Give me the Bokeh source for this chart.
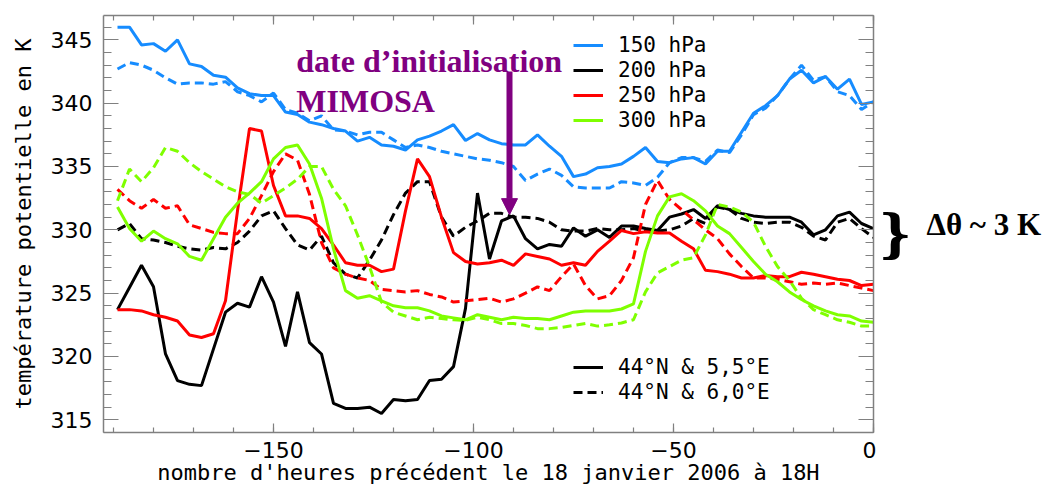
from bokeh.plotting import figure
from bokeh.layouts import row
from bokeh.models import (Range1d, LinearAxis, SingleIntervalTicker, CustomJSTickFormatter,
                          Legend, LegendItem, Label, Arrow, NormalHead)
from bokeh.embed import file_html
from bokeh.resources import INLINE

# ---------------- data ----------------
hours = [-189, -186, -183, -180, -177, -174, -171, -168, -165, -162,
         -159, -156, -153, -150, -147, -144, -141, -138, -135, -132,
         -129, -126, -123, -120, -117, -114, -111, -108, -105, -102,
         -99, -96, -93, -90, -87, -84, -81, -78, -75, -72,
         -69, -66, -63, -60, -57, -54, -51, -48, -45, -42,
         -39, -36, -33, -30, -27, -24, -21, -18, -15, -12,
         -9, -6, -3, 0]

# 44N & 5.5E (solid, "_a") / 44N & 6.0E (dashed, "_b")
theta150_a = [346.0, 346.0, 344.6, 344.7, 344.1, 345.0, 343.1, 342.9, 342.2, 342.05,
              341.2, 340.75, 340.6, 340.6, 339.3, 339.1, 338.5, 338.3, 338.0, 337.8,
              337.0, 337.3, 336.7, 336.6, 336.3, 337.1, 337.4, 337.8, 338.3, 337.05,
              337.6, 337.1, 336.8, 336.7, 336.7, 337.5, 336.6, 335.8, 334.2, 334.4,
              334.9, 335.0, 335.2, 335.8, 336.5, 335.4, 335.3, 335.6, 335.7, 335.2,
              336.2, 336.2, 337.7, 339.2, 339.8, 340.6, 341.9, 342.6, 341.6, 342.1,
              341.1, 341.9, 339.9, 340.1]
theta150_b = [342.7, 343.2, 343.0, 342.6, 342.0, 341.5, 341.6, 341.6, 341.5, 341.7,
              340.9, 340.6, 340.1, 340.8, 339.5, 339.2, 338.6, 339.0, 337.9, 337.8,
              337.5, 337.7, 337.7, 337.1, 336.5, 336.7, 336.5, 336.2, 336.0, 335.8,
              335.6, 335.5, 335.3, 335.0, 333.9, 334.4, 334.8, 334.3, 333.4, 333.3,
              333.3, 333.3, 333.8, 333.7, 333.5, 334.15, 335.3, 335.7, 335.7, 335.4,
              336.3, 336.1, 337.5, 339.1, 339.6, 340.6, 341.9, 343.0, 341.8, 342.1,
              340.9, 340.6, 339.5, 340.1]
theta200_a = [323.7, 325.45, 327.2, 325.5, 320.2, 318.1, 317.8, 317.7, 320.6, 323.5,
              324.2, 323.9, 326.3, 324.3, 320.8, 325.1, 321.1, 320.2, 316.3, 315.9,
              315.9, 316.0, 315.5, 316.6, 316.5, 316.6, 318.1, 318.2, 319.2, 323.8,
              332.9, 327.7, 330.7, 331.1, 329.3, 328.5, 328.85, 328.7, 330.15, 329.5,
              330.0, 329.4, 330.3, 330.3, 330.1, 329.95, 331.0, 331.25, 331.6, 330.9,
              331.9, 331.6, 331.3, 331.1, 331.0, 331.0, 331.0, 330.6, 329.6, 330.0,
              331.1, 331.4, 330.5, 330.1]
theta200_b = [330.0, 330.5, 329.3, 329.2, 329.0, 328.7, 328.5, 328.4, 328.6, 328.5,
              329.0, 329.9, 331.1, 331.5, 330.1, 328.8, 328.4, 329.5, 327.4, 326.5,
              326.2, 327.6, 329.2, 331.2, 332.9, 333.8, 333.8, 331.0, 329.5, 330.2,
              330.7, 331.3, 331.3, 331.0, 331.0, 330.9, 330.6, 330.0, 329.9, 329.9,
              330.1, 330.0, 330.0, 330.1, 329.9, 329.9, 330.0, 330.3, 330.9, 330.5,
              331.8, 331.6, 330.9, 330.6, 330.5, 330.6, 330.6, 330.2, 329.5, 329.2,
              330.6, 330.9, 330.1, 329.4]
theta250_a = [323.7, 323.7, 323.6, 323.3, 323.1, 322.8, 321.7, 321.5, 321.8, 324.4,
              331.5, 338.0, 337.8, 333.5, 331.1, 331.1, 330.9, 330.1, 328.8, 327.4,
              327.2, 327.2, 326.7, 326.9, 331.5, 335.6, 334.2, 331.0, 328.2, 327.5,
              327.3, 327.4, 327.6, 327.2, 328.1, 327.9, 327.7, 327.2, 327.4, 327.2,
              328.3, 329.1, 329.95, 329.7, 329.85, 329.75, 329.75, 329.1, 328.5, 326.8,
              326.7, 326.5, 326.2, 326.2, 326.4, 326.3, 326.3, 326.65, 326.5, 326.3,
              326.1, 326.0, 325.6, 325.7]
theta250_b = [333.2, 332.3, 331.7, 332.4, 331.7, 331.9, 330.4, 330.1, 329.8, 329.7,
              329.7, 330.9, 332.7, 334.6, 336.0, 335.5, 332.8, 329.0, 327.0, 326.5,
              326.2, 326.0, 325.3, 325.2, 325.1, 325.2, 324.9, 324.7, 324.3, 324.4,
              324.5, 324.6, 324.3, 324.55, 325.0, 325.5, 325.2, 326.3, 327.3, 325.6,
              324.55, 324.8, 326.0, 327.8, 332.0, 333.9, 332.4, 331.6, 330.8, 330.0,
              329.3, 328.1, 327.1, 326.2, 326.2, 326.1, 325.9, 325.7, 325.8, 325.7,
              325.8, 325.6, 325.4, 325.2]
theta300_a = [331.8, 330.1, 329.1, 329.9, 329.3, 328.9, 327.9, 327.6, 329.3, 331.0,
              332.1, 332.9, 333.8, 335.6, 336.5, 336.7, 335.2, 332.5, 328.5, 325.2,
              324.6, 324.8, 324.4, 324.0, 323.85, 323.85, 323.6, 323.2, 323.05, 322.9,
              323.3, 323.1, 322.9, 323.1, 323.0, 323.0, 322.9, 323.2, 323.5, 323.6,
              323.6, 323.6, 323.75, 324.15, 328.3, 331.1, 332.6, 332.85, 332.3, 331.5,
              330.3, 329.7, 328.6, 327.5, 326.5, 325.9, 325.1, 324.5, 324.0, 323.6,
              323.3, 323.2, 322.8, 322.7]
theta300_b = [332.3, 334.8, 333.8, 334.9, 336.5, 336.2, 335.3, 334.6, 334.0, 333.4,
              333.0, 332.8, 332.1, 332.7, 333.3, 334.0, 335.0, 335.0, 333.2, 331.9,
              329.6, 327.1, 324.3, 323.5, 323.2, 322.9, 323.1, 323.0, 322.9, 322.85,
              323.1, 322.9, 322.6, 322.6, 322.45, 322.2, 322.2, 322.3, 322.45, 322.6,
              322.4, 322.5, 322.65, 322.9, 325.1, 326.6, 327.1, 327.6, 327.8, 329.6,
              332.0, 331.8, 331.4, 330.6, 328.7, 327.1, 326.0, 324.6, 323.7, 323.3,
              322.9, 322.7, 322.4, 322.4]

levels = ["150 hPa", "200 hPa", "250 hPa", "300 hPa"]
colors = ["#168cff", "#000000", "#ff0000", "#7fff00"]
sites = ["44°N & 5,5°E", "44°N & 6,0°E"]
series_a = [theta150_a, theta200_a, theta250_a, theta300_a]
series_b = [theta150_b, theta200_b, theta250_b, theta300_b]

x_ticks_major = 50
y_ticks_major = 5

init_hour = -91          # MIMOSA initialisation date
init_arrow_top = 342.5
init_arrow_tip = 331.2

# ---------------- figure ----------------
FONT = "DejaVu Sans"
MONO = "DejaVu Sans Mono"
GRAY = "#808080"
PURPLE = "#800080"

p = figure(width=876, height=490,
           x_range=Range1d(-192.5, 0), y_range=Range1d(314.0, 346.92),
           output_backend="svg", toolbar_location=None,
           min_border_left=103, min_border_right=3, min_border_top=15, min_border_bottom=58,
           x_axis_label="nombre d'heures précédent le 18 janvier 2006 à 18H",
           y_axis_label="température potentielle en K")
p.outline_line_color = None
p.xgrid.visible = False
p.ygrid.visible = False
p.background_fill_color = "white"
p.border_fill_color = "white"

xticker = SingleIntervalTicker(interval=x_ticks_major, num_minor_ticks=5)
yticker = SingleIntervalTicker(interval=y_ticks_major, num_minor_ticks=5)
fmt = CustomJSTickFormatter(code="return tick < 0 ? '\\u2212' + Math.abs(tick) : String(tick);")
blank = CustomJSTickFormatter(code="return '';")


def style_axis(ax, major_in, minor_in):
    ax.axis_line_color = GRAY
    ax.axis_line_width = 1.5
    ax.major_tick_line_color = GRAY
    ax.minor_tick_line_color = GRAY
    ax.major_tick_line_width = 1.2
    ax.minor_tick_line_width = 1.2
    ax.major_tick_in = major_in
    ax.major_tick_out = 0
    ax.minor_tick_in = minor_in
    ax.minor_tick_out = 0
    ax.major_label_text_font = FONT
    ax.major_label_text_font_size = "22px"
    ax.major_label_text_color = "black"
    ax.axis_label_text_font = MONO
    ax.axis_label_text_font_size = "22px"
    ax.axis_label_text_font_style = "normal"
    ax.axis_label_text_color = "black"


xa = p.xaxis[0]
xa.ticker = xticker
xa.formatter = fmt
style_axis(xa, 9, 5)
xa.major_label_standoff = 9
xa.axis_label_standoff = -1

ya = p.yaxis[0]
ya.ticker = yticker
ya.formatter = fmt
style_axis(ya, 15, 8)
ya.major_label_standoff = 11
ya.axis_label_standoff = 12


def tick_only_axis(ticker, major_in, minor_in):
    ax = LinearAxis(ticker=ticker, formatter=blank)
    style_axis(ax, major_in, minor_in)
    ax.major_label_text_font_size = "1px"
    ax.major_label_text_color = None
    ax.major_label_standoff = 0
    return ax


p.add_layout(tick_only_axis(xticker, 9, 5), "above")
p.add_layout(tick_only_axis(yticker, 15, 8), "right")

# ---------------- lines ----------------
solid_r = []
dashed_r = []
for col, ya_vals, yb_vals in zip(colors, series_a, series_b):
    rb = p.line(hours, yb_vals, line_color=col, line_width=3, line_dash="9 5")
    ra = p.line(hours, ya_vals, line_color=col, line_width=3)
    solid_r.append(ra)
    dashed_r.append(rb)

# ---------------- legends (one entry per box so rows can sit tight) ----------------
def make_legend(label, renderer, loc):
    return Legend(items=[LegendItem(label=label, renderers=[renderer])], location=loc,
                  background_fill_alpha=0, border_line_color=None,
                  padding=0, margin=0, spacing=0,
                  glyph_width=30, glyph_height=24, label_height=24, label_standoff=15,
                  label_text_font=MONO, label_text_font_size="21px",
                  label_text_color="black")


level_rows = [375, 350, 325, 300]
for lab, r, vy in zip(levels, solid_r, level_rows):
    p.add_layout(make_legend(lab, r, (470, vy)))
p.add_layout(make_legend(sites[0], solid_r[1], (470, 53)))
p.add_layout(make_legend(sites[1], dashed_r[1], (470, 28)))

# ---------------- annotations ----------------
p.add_layout(Label(x=-144.3, y=343.3, text="date d\u2019initialisation",
                   text_font="Liberation Serif", text_font_style="bold",
                   text_font_size="32px", text_color=PURPLE, text_baseline="alphabetic"))
p.add_layout(Label(x=-144.3, y=340.2, text="MIMOSA",
                   text_font="Liberation Serif", text_font_style="bold",
                   text_font_size="32px", text_color=PURPLE, text_baseline="alphabetic"))
p.add_layout(Arrow(end=NormalHead(size=16, fill_color=PURPLE, line_color=PURPLE, line_width=1),
                   x_start=init_hour, y_start=init_arrow_top, x_end=init_hour, y_end=init_arrow_tip,
                   line_color=PURPLE, line_width=6))

# ---------------- right-hand note (own small canvas, pixel units) ----------------
side = figure(width=171, height=490, x_range=Range1d(876, 1047), y_range=Range1d(490, 0),
              output_backend="svg", toolbar_location=None,
              x_axis_location=None, y_axis_location=None, min_border=0)
side.outline_line_color = None
side.grid.visible = False
side.background_fill_color = "white"
side.border_fill_color = "white"
side.add_layout(Label(x=878, y=256, text="}", text_font="DejaVu Serif", text_font_style="bold",
                      text_font_size="52px", text_color="black", text_baseline="alphabetic"))
side.add_layout(Label(x=926, y=246, text="\u0394\u03b8 ~ 3 K", text_font="Liberation Serif",
                      text_font_style="bold", text_font_size="31px", text_color="black",
                      text_baseline="alphabetic"))

layout = row(p, side)
open("out.html", "w").write(file_html(layout, INLINE))
